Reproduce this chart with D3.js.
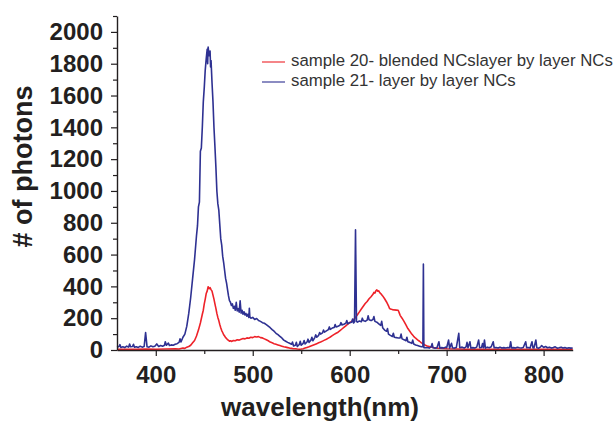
<!DOCTYPE html>
<html>
<head>
<meta charset="utf-8">
<script src="https://cdn.jsdelivr.net/npm/d3@7"></script>
<style>
  html, body { margin: 0; padding: 0; background: #ffffff; }
  svg { display: block; }
  text { font-family: "Liberation Sans", Arial, sans-serif; }
</style>
</head>
<body>
<svg id="chart" width="614" height="423"></svg>
<script>
// ---------- data ----------
const seriesNames = ["sample 20- blended NCslayer by layer NCs", "sample 21- layer by layer NCs"];
const xMajorTicks = [400, 500, 600, 700, 800];
const xMinorTicks = [450, 550, 650, 750];
const yMajorTicks = [0, 200, 400, 600, 800, 1000, 1200, 1400, 1600, 1800, 2000];
const yMinorTicks = [100, 300, 500, 700, 900, 1100, 1300, 1500, 1700, 1900, 2100];

// sample 20 (red): [wavelength nm, photons]
const sample20 = [[360,4],[370,5],[380,4],[390,6],[400,5],[410,6],[420,8],[424,6],[428,12],[430,10],[432,18],[434,22],[436,30],[438,45],[440,60],[442,88],[444,125],[446,170],[448,225],[449,250],[450,290],[451,320],[452,355],[453,370],[454,398],[455,385],[456,392],[457,380],[458,370],[459,345],[460,320],[461,290],[462,262],[463,230],[464,205],[465,185],[466,160],[467,140],[468,122],[469,110],[470,96],[471,88],[472,78],[473,72],[474,65],[475,60],[476,55],[477,58],[478,54],[480,60],[482,58],[484,64],[486,62],[488,68],[490,72],[492,70],[494,76],[496,74],[498,80],[500,78],[502,84],[504,82],[506,84],[508,78],[510,76],[512,70],[514,64],[516,58],[518,50],[520,45],[522,40],[524,36],[526,32],[528,28],[530,24],[532,20],[534,18],[536,15],[538,12],[540,10],[542,8],[544,8],[546,6],[548,5],[550,6],[552,8],[554,12],[556,16],[558,20],[560,25],[562,30],[564,35],[566,40],[568,45],[570,50],[572,56],[574,62],[576,68],[578,75],[580,82],[582,90],[584,98],[586,105],[588,112],[590,122],[592,132],[594,142],[596,152],[598,162],[600,172],[602,180],[604,190],[606,205],[608,222],[610,240],[612,258],[614,275],[616,292],[618,305],[620,322],[622,335],[624,350],[625,362],[626,358],[627,372],[628,378],[629,370],[630,372],[631,360],[632,355],[634,340],[636,322],[638,302],[640,278],[641,262],[642,258],[644,254],[646,252],[648,251],[650,250],[651,235],[652,218],[654,200],[656,180],[658,158],[660,135],[662,118],[664,100],[666,86],[668,74],[670,64],[672,55],[674,45],[676,38],[678,30],[680,25],[682,22],[684,19],[686,16],[688,14],[690,12],[695,10],[700,8],[710,6],[720,5],[740,5],[760,4],[780,4],[800,4],[830,4]];

// sample 21 (blue): [wavelength nm, photons]
const sample21 = [[360,18],[362,22],[363,34],[364,16],[366,20],[368,15],[370,24],[372,18],[373,38],[374,20],[376,22],[377,36],[378,18],[380,20],[382,16],[384,24],[386,18],[388,22],[389.5,109],[391,20],[393,18],[395,26],[397,20],[399,24],[401,38],[403,22],[405,28],[407,24],[409,30],[409.8,52],[411,30],[413,44],[414,28],[416,32],[418,30],[420,36],[422,40],[424,48],[425,70],[426,50],[428,80],[430,100],[432,150],[434,230],[436,330],[438,450],[440,570],[442,720],[443,780],[444,900],[445,930],[446,1250],[447,1270],[448,1400],[449,1560],[450,1650],[451,1760],[452,1830],[453,1890],[453.5,1800],[454,1905],[455,1850],[456,1880],[456.5,1780],[457,1820],[458,1680],[459,1560],[460,1400],[461,1280],[462,1150],[463,1000],[464,920],[465,880],[466,790],[467,700],[468,660],[469,590],[470,550],[471,500],[472,450],[473,420],[474,380],[475,340],[476,310],[477,300],[478,280],[479,290],[480,262],[481,275],[482,250],[483,300],[484,245],[485,260],[486,238],[487,310],[488,232],[489,250],[490,225],[491,240],[492,220],[493,230],[494,212],[495,225],[496,205],[496.5,262],[497,210],[498,200],[500,205],[502,192],[504,198],[506,185],[508,180],[510,172],[512,168],[514,160],[516,150],[518,140],[520,128],[522,118],[524,105],[526,96],[528,86],[530,76],[532,62],[534,55],[536,48],[538,42],[540,36],[541,50],[542,26],[544,30],[545,48],[546,22],[548,35],[549,55],[550,30],[552,42],[553,60],[554,38],[556,50],[557,68],[558,48],[560,62],[561,80],[562,58],[564,78],[565,95],[566,80],[568,92],[569,110],[570,100],[572,108],[573,125],[574,112],[576,120],[578,128],[579,145],[580,130],[582,138],[584,142],[585,160],[586,145],[588,150],[590,155],[591,172],[592,158],[594,162],[596,168],[597,185],[598,165],[600,172],[602,175],[603,195],[604,170],[605,178],[606,755],[607,180],[608,175],[610,182],[612,178],[613,200],[614,185],[616,180],[618,188],[619,215],[620,190],[622,185],[624,192],[625,210],[626,180],[628,175],[630,165],[632,155],[633,180],[634,140],[636,125],[638,118],[639,135],[640,100],[642,92],[644,85],[645,105],[646,80],[648,78],[650,75],[652,76],[653,100],[654,70],[656,65],[658,58],[659,80],[660,52],[662,48],[664,42],[665,62],[666,38],[668,32],[670,28],[672,24],[674,20],[675.5,20],[676,541],[676.5,15],[678,14],[680,16],[682,12],[684,20],[685,40],[686,14],[688,12],[690,14],[692,52],[693,12],[695,15],[697,12],[699,18],[700,14],[702,63],[703,12],[705,42],[706,14],[708,12],[710,16],[712.5,105],[713.5,14],[716,18],[718,12],[720,20],[721,48],[722,14],[724,52],[725,12],[727,15],[729,12],[731,18],[733,63],[734,14],[736,16],[737,40],[738,14],[739,63],[740,12],[742,18],[744,14],[746,20],[748,52],[749,14],[751,16],[753,13],[755,18],[757,12],[759,15],[761,13],[763,16],[765,14],[766,52],[767,13],[769,15],[771,12],[773,17],[775,14],[777,13],[779,16],[781.5,52],[782.5,14],[784,16],[786,12],[788,52],[789,14],[790,12],[792,63],[793,14],[795,12],[797,20],[798,28],[800,16],[802,22],[804,14],[806,18],[808,12],[810,15],[812,20],[814,12],[816,14],[818,18],[820,12],[822,15],[824,11],[826,14],[828,12],[830,13]];

const seriesData = [sample20, sample21];
const seriesColors = ["#ee2229", "#2e3192"];

// ---------- drawing ----------
const svg = d3.select("#chart");
const x = d3.scaleLinear().domain([360, 830]).range([117, 572.7]);
const y = d3.scaleLinear().domain([0, 2100]).range([350, 16]);
const ink = "#231f20";

// curves
const line = d3.line().x(d => x(d[0])).y(d => y(d[1]));
seriesData.forEach((data, i) => {
  svg.append("path")
    .datum(data)
    .attr("fill", "none")
    .attr("stroke", seriesColors[i])
    .attr("stroke-width", 1.6)
    .attr("stroke-linejoin", "round")
    .attr("d", line);
});

// minor ticks
const xMinor = svg.append("g").attr("transform", "translate(0,350)")
  .call(d3.axisBottom(x).tickValues(xMinorTicks).tickSize(4).tickFormat(""));
const yMinor = svg.append("g").attr("transform", "translate(117,0)")
  .call(d3.axisLeft(y).tickValues(yMinorTicks).tickSize(4).tickFormat(""));
[xMinor, yMinor].forEach(g => {
  g.select(".domain").remove();
  g.selectAll("line").attr("stroke", ink).attr("stroke-width", 1.2);
});

// major axes
const xAxis = svg.append("g").attr("transform", "translate(0,350)")
  .call(d3.axisBottom(x).tickValues(xMajorTicks).tickSize(6).tickPadding(10).tickSizeOuter(0).tickFormat(d3.format("d")));
const yAxis = svg.append("g").attr("transform", "translate(117,0)")
  .call(d3.axisLeft(y).tickValues(yMajorTicks).tickSize(6).tickPadding(8).tickSizeOuter(0).tickFormat(d3.format("d")));
[xAxis, yAxis].forEach(g => {
  g.select(".domain").attr("stroke", ink).attr("stroke-width", 1.4);
  g.selectAll(".tick line").attr("stroke", ink).attr("stroke-width", 1.2);
  g.selectAll(".tick text")
    .attr("fill", ink)
    .style("font-family", "'Liberation Sans', Arial, sans-serif")
    .style("font-weight", "bold")
    .style("font-size", "24px");
});

// axis titles
svg.append("text")
  .attr("x", 320).attr("y", 416)
  .attr("text-anchor", "middle")
  .attr("fill", ink)
  .style("font-weight", "bold").style("font-size", "26px")
  .text("wavelength(nm)");
svg.append("text")
  .attr("transform", "translate(32,166.5) rotate(-90)")
  .attr("text-anchor", "middle")
  .attr("fill", ink)
  .style("font-weight", "bold").style("font-size", "27px")
  .text("# of photons");

// legend
const legend = svg.append("g");
seriesNames.forEach((name, i) => {
  const ly = 62 + i * 20;
  legend.append("line")
    .attr("x1", 262).attr("x2", 285).attr("y1", ly).attr("y2", ly)
    .attr("stroke", seriesColors[i]).attr("stroke-width", 1.3).attr("opacity", 0.85);
  legend.append("text")
    .attr("x", 291).attr("y", ly + 3.8)
    .attr("fill", "#333333")
    .style("font-size", "16.8px")
    .text(name);
});
</script>
</body>
</html>
